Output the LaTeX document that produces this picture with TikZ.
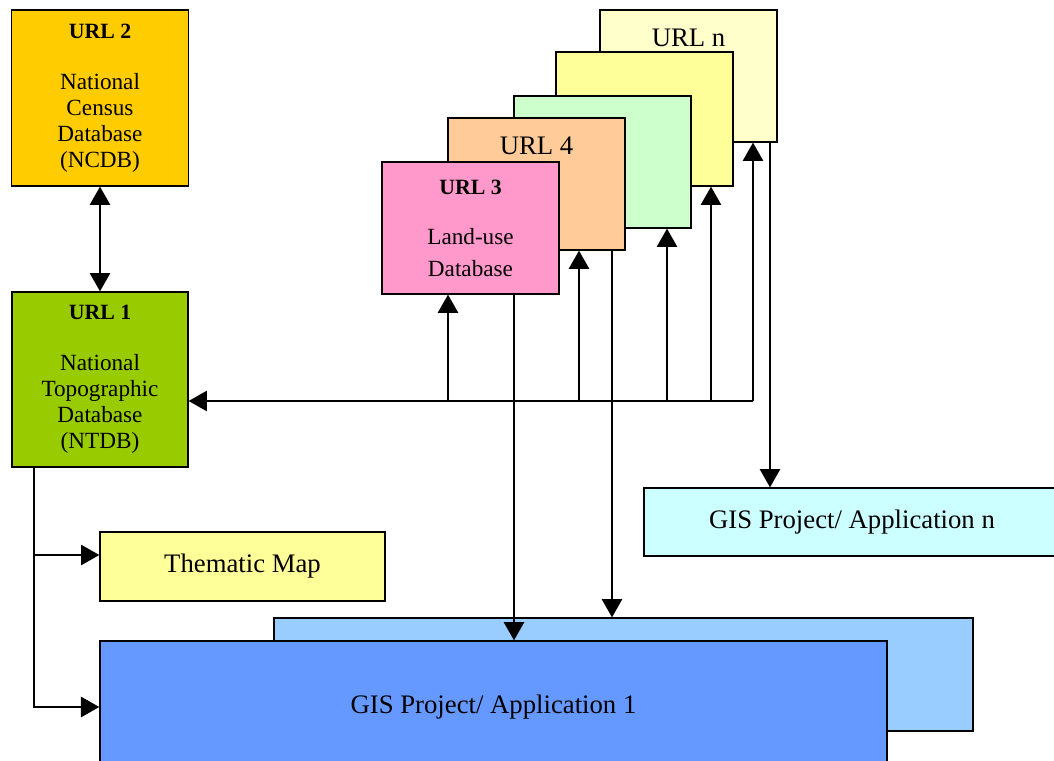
\documentclass[tikz,border=0pt]{standalone}
\usepackage{fontspec}
\setmainfont{Liberation Serif}
\usetikzlibrary{arrows.meta}

\definecolor{ncdbgold}{HTML}{FFCC00}
\definecolor{ntdbgreen}{HTML}{99CC00}
\definecolor{landpink}{HTML}{FF99CC}
\definecolor{urlorange}{HTML}{FFCC99}
\definecolor{urlmint}{HTML}{CCFFCC}
\definecolor{urlyellow}{HTML}{FFFF99}
\definecolor{urlcream}{HTML}{FFFFCC}
\definecolor{appcyan}{HTML}{CCFFFF}
\definecolor{appsky}{HTML}{99CCFF}
\definecolor{appblue}{HTML}{6699FF}

\begin{document}
\begin{tikzpicture}[x=0.025cm,y=-0.025cm,
	box/.style={draw, line width=0.9pt, align=center, inner sep=0pt},
	urlbox/.style={box, minimum width=4.425cm, minimum height=3.3cm},
	tip/.style={line width=1pt, -{Triangle[length=13pt,width=14.5pt]}},
	bigtext/.style={font=\fontsize{19}{22}\selectfont}]
	\useasboundingbox (0,0) rectangle (1054,761);
	\clip (0,0) rectangle (1054,761);

	% national databases
	\node[box, fill=ncdbgold, minimum width=4.425cm, minimum height=4.4cm,
		font=\fontsize{16.5}{18.5}\selectfont] (url2) at (100,98)
		{{\bfseries\fontsize{15.5}{18}\selectfont URL 2}\\[17.5pt] National\\Census\\Database\\(NCDB)};
	\node[box, fill=ntdbgreen, minimum width=4.4cm, minimum height=4.375cm,
		font=\fontsize{16.5}{18.5}\selectfont] (url1) at (100,379.5)
		{{\bfseries\fontsize{15.5}{18}\selectfont URL 1}\\[17.5pt] National\\Topographic\\Database\\(NTDB)};

	% stack of other URLs, back to front
	\node[urlbox, fill=urlcream, label={[bigtext, anchor=north, inner sep=0pt, yshift=-13.5pt]north:URL n}] (urln) at (688.5,76) {};
	\node[urlbox, fill=urlyellow, minimum height=3.35cm] (url6) at (644.5,119) {};
	\node[urlbox, fill=urlmint] (url5) at (602.5,162) {};
	\node[urlbox, fill=urlorange, label={[bigtext, anchor=north, inner sep=0pt, yshift=-13.5pt]north:URL 4}] (url4) at (536.5,184) {};
	\node[urlbox, fill=landpink, font=\fontsize{16.5}{22.8}\selectfont] (url3) at (470.5,228)
		{{\bfseries\fontsize{15.5}{18}\selectfont URL 3}\\[12.8pt] Land-use\\Database};

	% outputs
	\node[box, fill=urlyellow, bigtext, minimum width=7.125cm, minimum height=1.725cm] (thematic) at (242.5,566.5) {Thematic Map};
	\node[box, fill=appcyan, bigtext, minimum width=10.4cm, minimum height=1.7cm] (gisn) at (852,522) {GIS Project/ Application n};
	\node[box, fill=appsky, minimum width=17.475cm, minimum height=2.825cm] (gisb) at (623.5,674.5) {};
	\node[box, fill=appblue, bigtext, minimum width=19.675cm, minimum height=3.3cm] (gis1) at (493.5,707) {GIS Project/ Application 1};

	% links
	\draw[line width=1pt, {Triangle[length=13pt,width=14.5pt]}-{Triangle[length=13pt,width=14.5pt]}] (url2.south) -- (url1.north);

	\foreach \x/\n in {448/url3, 579/url4, 667/url5, 711/url6, 753/urln}
	{
		\coordinate (tap\n) at (\x,401);
		\draw[tip] (tap\n) -- (tap\n |- \n.south);
	}
	\draw[tip] (tapurln) -- (tapurln -| url1.east);

	\coordinate (drop3) at (514,0);
	\coordinate (drop4) at (612,0);
	\coordinate (dropn) at (770,0);
	\draw[tip] (drop3 |- url3.south) -- (drop3 |- gis1.north);
	\draw[tip] (drop4 |- url4.south) -- (drop4 |- gisb.north);
	\draw[tip] (dropn |- urln.south) -- (dropn |- gisn.north);

	\coordinate (trunk) at (34,707);
	\coordinate (branch) at (34,555);
	\draw[tip] (trunk |- url1.south) -- (trunk) -- (gis1.west);
	\draw[tip] (branch) -- (branch -| thematic.west);
\end{tikzpicture}
\end{document}
